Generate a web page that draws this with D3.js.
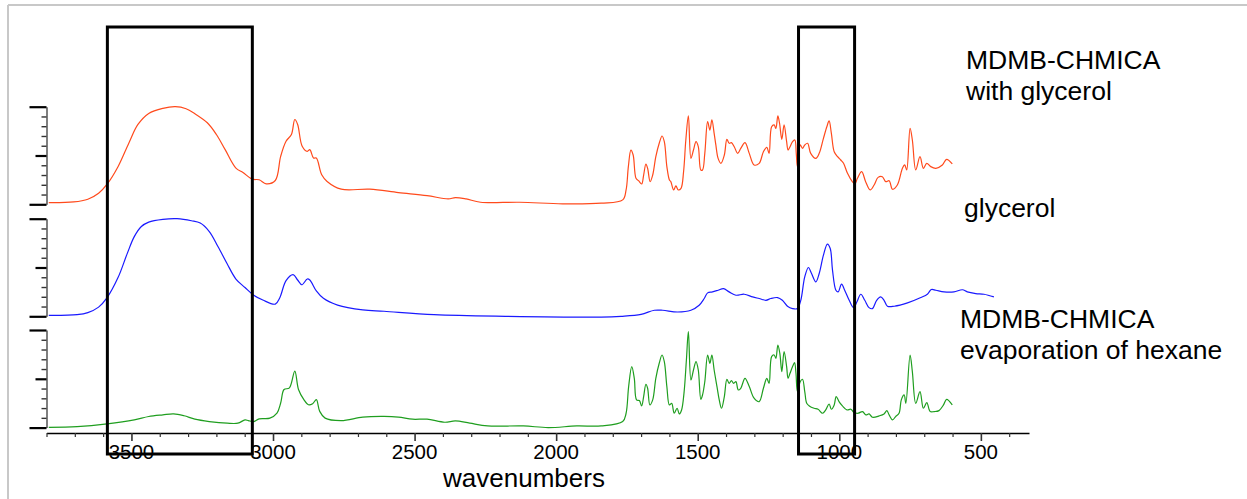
<!DOCTYPE html>
<html>
<head>
<meta charset="utf-8">
<script src="https://cdn.jsdelivr.net/npm/d3@7/dist/d3.min.js"></script>
<style>
  html, body { margin: 0; padding: 0; background: #fff; }
  svg { display: block; }
  text { font-family: "Liberation Sans", Arial, sans-serif; fill: #000; }
</style>
</head>
<body>
<svg id="chart" width="1247" height="499"></svg>
<script>
// spectra: [wavenumber, relative absorbance 0..10]
const withGlycerol = [
  [3792,0.17],[3704,0.24],[3654,0.52],[3616,1.13],[3586,2.06],[3547,3.88],[3509,6.29],[3477,8.18],
  [3439,9.31],[3389,9.83],[3345,10.0],[3307,9.79],[3276,9.28],[3232,8.35],[3200,7.15],[3169,5.6],
  [3131,3.71],[3106,3.26],[3074,2.58],[3049,2.51],[3024,2.1],[2992,2.44],[2973,4.91],[2954,6.46],
  [2935,7.15],[2923,8.69],[2913,8.18],[2897,5.95],[2879,5.43],[2870,5.6],[2857,4.74],[2847,4.74],
  [2828,3.02],[2809,2.34],[2759,1.55],[2658,1.55],[2557,1.2],[2456,0.89],[2381,0.55],[2356,0.69],
  [2318,0.55],[2267,0.21],[2129,0.21],[1977,0.05],[1841,0.12],[1765,0.45],[1753,1.47],[1745,3.86],
  [1736,5.56],[1728,5.05],[1718,2.66],[1709,2.42],[1698,2.08],[1691,3.0],[1683,4.13],[1677,3.69],
  [1668,2.32],[1659,3.0],[1648,4.88],[1636,6.25],[1626,7.0],[1618,6.42],[1609,3.86],[1600,2.49],
  [1595,2.32],[1585,1.47],[1577,1.88],[1569,1.47],[1559,1.64],[1550,3.34],[1542,6.59],[1533,9.05],
  [1524,4.71],[1515,5.56],[1506,6.42],[1498,5.9],[1489,3.52],[1483,3.52],[1475,5.22],[1465,8.47],
  [1457,7.61],[1450,8.64],[1442,7.27],[1436,6.08],[1428,4.71],[1418,4.2],[1406,5.05],[1397,6.66],
  [1389,6.25],[1381,6.32],[1371,5.9],[1359,5.22],[1348,5.73],[1333,6.32],[1318,5.22],[1301,4.03],
  [1283,4.2],[1268,5.39],[1256,5.84],[1248,5.22],[1239,7.95],[1230,8.13],[1224,7.78],[1217,9.05],
  [1211,8.3],[1203,6.66],[1195,8.13],[1186,6.42],[1181,5.56],[1174,5.9],[1165,6.42],[1157,6.59],
  [1152,5.22],[1148,3.86],[1138,6.08],[1130,5.73],[1122,6.08],[1112,6.25],[1101,5.22],[1083,4.71],
  [1071,5.22],[1056,6.76],[1044,7.95],[1036,8.54],[1028,7.27],[1018,5.39],[1006,4.88],[995,4.54],
  [985,4.2],[971,3.17],[954,2.32],[945,2.08],[936,2.66],[921,3.34],[907,2.32],[891,1.47],
  [877,1.98],[863,2.76],[848,2.83],[836,2.32],[824,2.42],[812,1.54],[795,1.98],[777,3.69],
  [769,4.03],[762,3.52],[750,7.78],[742,6.59],[730,3.52],[715,4.88],[703,3.69],[691,4.2],
  [677,3.86],[659,3.69],[636,4.03],[621,4.61],[601,4.13]
];

const glycerol = [
  [3792,0.1],[3692,0.17],[3654,0.38],[3616,0.94],[3586,1.91],[3547,3.99],[3515,6.42],[3490,8.16],
  [3465,9.2],[3439,9.65],[3389,9.93],[3339,10.0],[3288,9.79],[3257,9.55],[3225,8.68],[3194,7.12],
  [3162,5.38],[3131,3.82],[3099,2.95],[3068,2.15],[3036,1.67],[2992,1.25],[2976,1.91],[2954,3.65],
  [2929,4.27],[2913,3.72],[2898,3.23],[2879,3.82],[2870,3.72],[2847,2.6],[2822,1.84],[2772,1.15],
  [2683,0.66],[2608,0.52],[2431,0.17],[2179,0.0],[1841,-0.08],[1771,0.0],[1700,0.2],[1653,0.62],
  [1624,0.62],[1571,0.44],[1524,0.62],[1495,1.13],[1477,1.82],[1465,2.4],[1448,2.5],[1428,2.67],
  [1409,2.84],[1389,2.5],[1365,2.16],[1336,2.26],[1306,1.99],[1283,1.82],[1259,1.64],[1242,1.82],
  [1218,1.92],[1201,1.64],[1183,1.03],[1165,0.79],[1148,0.79],[1136,1.64],[1122,4.04],[1109,5.0],
  [1098,4.38],[1083,3.53],[1071,4.38],[1056,6.27],[1042,7.4],[1032,6.95],[1024,4.73],[1012,2.67],
  [1004,2.5],[992,3.29],[981,2.67],[965,1.64],[950,0.89],[938,1.47],[924,2.26],[910,1.64],
  [895,0.89],[883,0.79],[868,1.64],[854,1.99],[842,1.64],[830,1.03],[806,1.03],[759,1.37],
  [712,1.92],[689,2.26],[675,2.74],[659,2.67],[630,2.5],[595,2.5],[565,2.72],[548,2.5],
  [518,2.33],[489,2.26],[454,1.99]
];

const evapHexane = [
  [3792,0.03],[3692,0.1],[3586,0.38],[3490,0.79],[3439,1.14],[3389,1.31],[3351,1.41],[3314,1.21],
  [3276,0.86],[3225,0.62],[3162,0.45],[3124,0.45],[3099,0.79],[3087,0.72],[3068,0.62],[3049,0.9],
  [3011,0.97],[2986,1.48],[2973,2.52],[2961,3.9],[2942,4.07],[2923,5.79],[2910,3.9],[2891,2.86],
  [2875,2.34],[2860,2.45],[2847,2.86],[2835,1.66],[2816,0.97],[2759,0.72],[2683,1.07],[2608,1.14],
  [2557,1.07],[2507,0.86],[2456,0.86],[2393,0.55],[2356,0.69],[2305,0.45],[2242,0.17],[2116,0.17],
  [2028,0.0],[1927,0.17],[1841,0.17],[1765,0.62],[1753,1.47],[1744,4.2],[1733,6.25],[1724,5.05],
  [1716,2.84],[1706,2.77],[1698,2.22],[1691,3.18],[1683,4.44],[1677,4.03],[1669,2.32],[1659,2.84],
  [1648,5.05],[1636,6.59],[1626,7.44],[1618,6.76],[1609,4.2],[1600,2.32],[1592,2.49],[1583,1.47],
  [1573,1.98],[1565,1.4],[1557,1.81],[1548,3.69],[1540,6.93],[1533,9.83],[1524,4.88],[1515,5.9],
  [1506,6.76],[1498,5.9],[1489,2.9],[1483,3.35],[1475,4.71],[1465,7.44],[1457,6.59],[1450,7.44],
  [1442,5.9],[1432,4.2],[1424,2.84],[1416,1.98],[1406,3.18],[1397,4.95],[1389,4.54],[1381,4.81],
  [1373,4.54],[1365,4.71],[1357,3.86],[1348,4.03],[1333,5.05],[1318,4.2],[1301,3.01],[1283,2.66],
  [1268,4.03],[1256,5.05],[1248,4.54],[1239,7.27],[1230,7.44],[1224,7.1],[1217,8.46],[1210,7.61],
  [1203,5.74],[1195,7.78],[1186,6.25],[1181,5.05],[1174,5.57],[1165,6.25],[1158,6.66],[1153,5.57],
  [1148,3.69],[1138,4.71],[1130,4.95],[1122,3.69],[1115,2.49],[1106,2.22],[1089,1.98],[1075,1.88],
  [1059,1.47],[1048,1.81],[1036,2.42],[1028,1.88],[1018,2.32],[1011,3.18],[1001,2.66],[989,2.22],
  [973,1.81],[959,1.88],[948,1.54],[934,1.47],[918,1.64],[906,1.3],[895,1.4],[883,1.06],
  [859,1.2],[842,1.4],[832,1.74],[824,1.3],[812,0.79],[801,1.13],[789,1.47],[781,2.84],
  [771,3.35],[765,2.49],[750,7.44],[742,5.74],[730,2.49],[715,3.69],[703,1.98],[691,2.56],
  [679,1.64],[665,1.64],[648,1.74],[632,2.32],[621,2.9],[601,2.32]
];

const seriesColors = ["#ff4a1c", "#1a1aff", "#1f9e1f"];
const seriesLabels = [["MDMB-CHMICA", "with glycerol"], ["glycerol"], ["MDMB-CHMICA", "evaporation of hexane"]];
const xTickLabels = [3500, 3000, 2500, 2000, 1500, 1000, 500];
const boxRanges = [[3585, 3073], [1144, 946]];   // highlighted wavenumber regions
const xDomain = [3800, 330];
const yDomain = [0, 10];

const svg = d3.select("#chart");

// light page frame (top and left edges only)
svg.append("line").attr("x1", 8).attr("x2", 1247).attr("y1", 5).attr("y2", 5)
  .attr("stroke", "#c8c8c8").attr("stroke-width", 2);
svg.append("line").attr("x1", 8).attr("x2", 8).attr("y1", 5).attr("y2", 499)
  .attr("stroke", "#c8c8c8").attr("stroke-width", 2);

const x = d3.scaleLinear().domain(xDomain).range([46.5, 1029]);

const panelTop = [106.7, 218.7, 330];
const panelH = 97.6;
const panels = [withGlycerol, glycerol, evapHexane];

panels.forEach((data, i) => {
  const y = d3.scaleLinear().domain(yDomain).range([panelTop[i] + panelH, panelTop[i]]);

  const g = svg.append("g").attr("transform", "translate(46.5,0)");
  g.call(d3.axisLeft(y).tickValues(d3.range(0, 11)).tickFormat("").tickSizeOuter(0));
  g.select(".domain").attr("stroke", "#555").attr("stroke-width", 1.5);
  g.selectAll(".tick line")
    .attr("x2", d => (d === 0 || d === 10) ? -17 : d === 5 ? -11 : -5)
    .attr("stroke", d => (d % 5 === 0) ? "#000" : "#333")
    .attr("stroke-width", d => (d % 5 === 0) ? 2.2 : 1.4);

  const line = d3.line()
    .x(d => x(d[0]))
    .y(d => y(d[1]))
    .curve(d3.curveCatmullRom.alpha(0.5));

  svg.append("path")
    .datum(data)
    .attr("fill", "none")
    .attr("stroke", seriesColors[i])
    .attr("stroke-width", 1.2)
    .attr("d", line);
});

// bottom axis
const xg = svg.append("g").attr("transform", "translate(0,433)");
xg.call(d3.axisBottom(x).tickValues(d3.range(3800, 399, -100)).tickFormat("").tickSizeOuter(0));
xg.select(".domain").attr("stroke", "#000").attr("stroke-width", 1.5);
xg.selectAll(".tick line")
  .attr("y2", d => d % 500 === 0 ? 8 : 4)
  .attr("stroke", "#333")
  .attr("stroke-width", d => d % 500 === 0 ? 1.6 : 1.2);

svg.append("g").selectAll("text")
  .data(xTickLabels)
  .join("text")
  .attr("x", d => x(d))
  .attr("y", 459)
  .attr("text-anchor", "middle")
  .style("font-size", "20.5px")
  .text(d => d);

svg.append("text")
  .attr("x", 524).attr("y", 487)
  .attr("text-anchor", "middle")
  .style("font-size", "26px")
  .text("wavenumbers");

// highlight boxes
svg.append("g").selectAll("rect")
  .data(boxRanges)
  .join("rect")
  .attr("x", d => x(d[0]))
  .attr("y", 27)
  .attr("width", d => x(d[1]) - x(d[0]))
  .attr("height", 427)
  .attr("fill", "none")
  .attr("stroke", "#000")
  .attr("stroke-width", 3);

// series labels
const labelPos = [[966, 69], [964, 217], [960, 328]];
seriesLabels.forEach((lines, i) => {
  const t = svg.append("text")
    .attr("x", labelPos[i][0]).attr("y", labelPos[i][1])
    .style("font-size", "26.5px");
  lines.forEach((s, j) => {
    t.append("tspan").attr("x", labelPos[i][0]).attr("dy", j === 0 ? 0 : 31).text(s);
  });
});
</script>
</body>
</html>
